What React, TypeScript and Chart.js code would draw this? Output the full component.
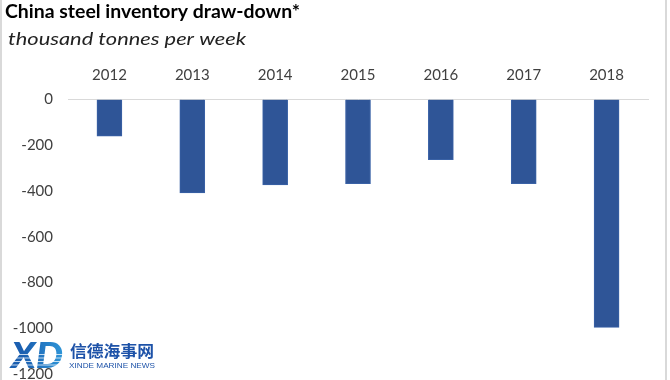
import React, { useEffect, useRef } from "react";
import { Chart, registerables } from "chart.js";

Chart.register(...registerables);

const TITLE = "China steel inventory draw-down*";
const SUBTITLE = "thousand tonnes per week";
const years = ["2012", "2013", "2014", "2015", "2016", "2017", "2018"];
const drawDown = [-160, -408, -373, -368, -263, -368, -996];
const yTicks = [0, -200, -400, -600, -800, -1000, -1200];
const logoCn = "信德海事网";
const logoEn = "XINDE MARINE NEWS";

const FONT = "Lato, 'Open Sans', sans-serif";

function fitText(ctx: any, text: string, x: number, y: number, w: number) {
  const m = ctx.measureText(text).width;
  ctx.save();
  ctx.translate(x, y);
  ctx.scale(w / m, 1);
  ctx.fillText(text, 0, 0);
  ctx.restore();
}

const decor = {
  id: "decor",
  afterDraw(chart: any) {
    const ctx = chart.ctx;
    ctx.save();
    // frame lines
    ctx.fillStyle = "#d9d9d9";
    ctx.fillRect(0, 0, 2, 400);
    ctx.fillRect(665, 0, 2, 400);
    // title
    ctx.fillStyle = "#000000";
    ctx.textBaseline = "alphabetic";
    ctx.textAlign = "left";
    ctx.font = `bold 19px ${FONT}`;
    fitText(ctx, TITLE, 5, 18, 295);
    ctx.font = `italic 18px ${FONT}`;
    ctx.fillStyle = "#222222";
    fitText(ctx, SUBTITLE, 8, 45, 238);
    // watermark logo
    const g = ctx.createLinearGradient(12, 0, 62, 0);
    g.addColorStop(0, "#1b5fb0");
    g.addColorStop(1, "#35a9e6");
    ctx.fillStyle = g;
    ctx.font = `italic 900 36px ${FONT}`;
    fitText(ctx, "XD", 11, 368, 52);
    ctx.fillStyle = "rgba(255,255,255,0.75)";
    for (let y = 354; y < 368; y += 3.5) ctx.fillRect(10, y, 56, 1);
    ctx.fillStyle = "#1d52a8";
    ctx.font = `bold 16px 'Noto Sans CJK SC', sans-serif`;
    fitText(ctx, logoCn, 70, 357, 84);
    ctx.font = `8px 'Liberation Sans', sans-serif`;
    ctx.fillStyle = "#1d52a8";
    fitText(ctx, logoEn, 69, 368, 86);
    ctx.restore();
  },
};

export default function App() {
  const ref = useRef<HTMLCanvasElement>(null);
  useEffect(() => {
    document.body.style.margin = "0";
    const chart = new Chart(ref.current!, {
      type: "bar",
      data: {
        labels: years,
        datasets: [
          {
            data: drawDown,
            backgroundColor: "#2f5597",
            borderColor: "#3a62a6",
            borderWidth: 1,
            barThickness: 25,
          },
        ],
      },
      options: {
        animation: false,
        responsive: false,
        maintainAspectRatio: false,
        layout: { padding: { top: 50, left: 0, right: 22, bottom: 7 } },
        plugins: { legend: { display: false }, tooltip: { enabled: false }, title: { display: false } },
        scales: {
          x: {
            position: "top",
            grid: { display: false, drawTicks: false },
            border: { display: true, color: "#d9d9d9", width: 1 },
            ticks: { color: "#404040", font: { family: FONT, size: 15 }, padding: 15 },
            afterFit: (s: any) => { s.height = 49.5; },
          },
          y: {
            min: -1200,
            max: 0,
            afterBuildTicks: (s: any) => { s.ticks = yTicks.map((v) => ({ value: v })); },
            grid: { display: false, drawTicks: false },
            border: { display: false },
            ticks: {
              color: "#404040",
              font: { family: FONT, size: 15 },
              padding: 15,
              callback: (v: any) => String(v),
            },
            afterFit: (s: any) => { s.width = 68; },
          },
        },
      },
      plugins: [decor],
    });
    return () => chart.destroy();
  }, []);
  return (
    <div style={{ position: "fixed", left: 0, top: 0, width: 670, height: 380, overflow: "hidden", background: "#fff" }}>
      <canvas ref={ref} width={670} height={398} />
    </div>
  );
}
